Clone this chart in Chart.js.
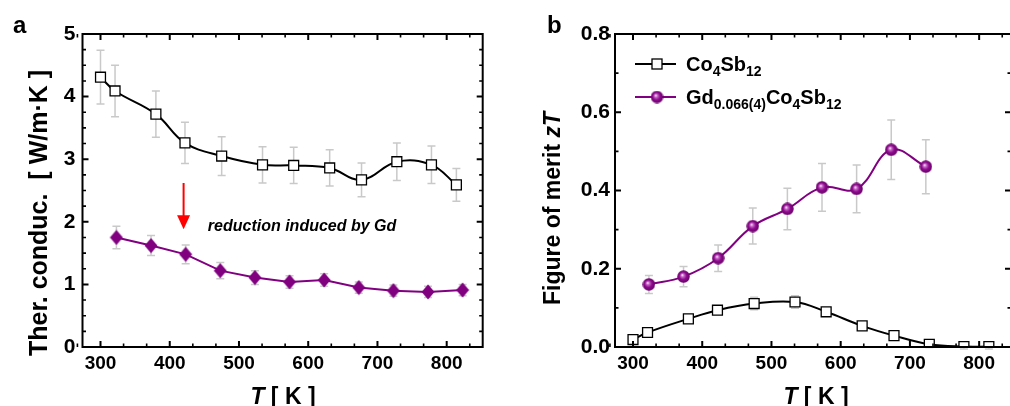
<!DOCTYPE html>
<html><head><meta charset="utf-8">
<script src="https://cdn.jsdelivr.net/npm/chart.js@4/dist/chart.umd.min.js"></script>
<style>
html,body{margin:0;padding:0;background:#fff;overflow:hidden;width:1010px;height:406px}
#ca{position:absolute;left:0;top:0}
#cb{position:absolute;left:505px;top:0}
</style></head><body>
<canvas id="ca" width="505" height="406" style="width:505px;height:406px"></canvas>
<canvas id="cb" width="515" height="406" style="width:515px;height:406px"></canvas>
<script>
// ---------------- data ----------------
const tempPure     = [300, 321, 380, 422, 475, 534, 579, 631, 677, 728, 778, 814];
const kappaPure    = [4.31, 4.09, 3.72, 3.26, 3.05, 2.91, 2.90, 2.86, 2.67, 2.96, 2.91, 2.59];
const kappaPureErr = [0.43, 0.41, 0.37, 0.33, 0.31, 0.29, 0.29, 0.29, 0.27, 0.30, 0.30, 0.26];
const tempGd       = [323, 373, 423, 473, 523, 573, 623, 673, 723, 773, 823];
const kappaGd      = [1.75, 1.62, 1.48, 1.22, 1.11, 1.04, 1.07, 0.95, 0.90, 0.88, 0.91];
const kappaGdErr   = [0.18, 0.16, 0.15, 0.13, 0.11, 0.10, 0.10, 0.09, 0.09, 0.09, 0.09];
const ztPure       = [0.019, 0.037, 0.072, 0.094, 0.111, 0.115, 0.090, 0.054, 0.029, 0.007, 0.001, 0.001];
const ztPureErr    = [0.012, 0.012, 0.010, 0.010, 0.016, 0.016, 0.010, 0.008, 0.010, 0.008, 0.006, 0.006];
const tempGdZt     = [323, 373, 423, 473, 523, 573, 623, 673, 723];
const ztGd         = [0.160, 0.180, 0.227, 0.309, 0.353, 0.408, 0.404, 0.504, 0.461];
const ztGdErr      = [0.023, 0.026, 0.034, 0.046, 0.053, 0.061, 0.061, 0.076, 0.069];

const tempTicks  = [300, 400, 500, 600, 700, 800];
const kappaTicks = [0, 1, 2, 3, 4, 5];
const ztTicks    = [0, 0.2, 0.4, 0.6, 0.8];
const ztTickLabels = ['0.0', '0.2', '0.4', '0.6', '0.8'];

// annotation (data coordinates)
const arrowT = 420, arrowFrom = 2.62, arrowTo = 1.88;
const noteText = 'reduction induced by Gd';
const noteT = 455, noteY = 1.86;

// ---------------- helpers ----------------
const FF = '"Liberation Sans", Arial, Helvetica, sans-serif';
const PURPLE = '#800080';
const ERRC = '#c9c9c9';

function makeDiamond(){
  const c = document.createElement('canvas'); c.width = 14; c.height = 16;
  const g = c.getContext('2d');
  g.fillStyle = PURPLE;
  g.beginPath(); g.moveTo(7, 0.5); g.lineTo(13.5, 8); g.lineTo(7, 15.5); g.lineTo(0.5, 8); g.closePath(); g.fill();
  return c;
}
function makeSphere(d){
  const c = document.createElement('canvas'); c.width = d; c.height = d;
  const g = c.getContext('2d'); const r = d / 2;
  const grd = g.createRadialGradient(r - 1.3, r - 1.6, 0.2, r, r, r);
  grd.addColorStop(0, '#fdeefd');
  grd.addColorStop(0.22, '#c768c7');
  grd.addColorStop(0.55, '#8e0a8e');
  grd.addColorStop(1, '#640064');
  g.fillStyle = grd;
  g.beginPath(); g.arc(r, r, r - 0.3, 0, Math.PI * 2); g.fill();
  return c;
}
const diamondImg = makeDiamond();
const sphereImg = makeSphere(13);

function drawRich(ctx, parts, x, y, size){
  let cx = x;
  parts.forEach(p => {
    const s = p.sub ? Math.round(size * 0.7) : size;
    ctx.font = (p.it ? 'italic ' : '') + 'bold ' + s + 'px ' + FF;
    ctx.fillText(p.t, cx, y + (p.sub ? size * 0.27 : 0));
    cx += ctx.measureText(p.t).width;
  });
  return cx - x;
}
function richWidth(ctx, parts, size){
  let w = 0;
  parts.forEach(p => {
    const s = p.sub ? Math.round(size * 0.7) : size;
    ctx.font = (p.it ? 'italic ' : '') + 'bold ' + s + 'px ' + FF;
    w += ctx.measureText(p.t).width;
  });
  return w;
}
function minorList(majors, step, n, lo, hi){
  const out = [];
  const first = majors[0] - step;
  for (let k = -n; k <= majors.length * n + n; k++) {
    const v = majors[0] + k * step / n;
    if (v >= lo - 1e-9 && v <= hi + 1e-9 && (k % n) !== 0) out.push(v);
  }
  return out;
}

function framePlugin(o){
  return {
    id: 'frame',
    beforeDatasetsDraw(chart){
      const ctx = chart.ctx, ys = chart.scales.y;
      chart.data.datasets.forEach((ds, i) => {
        if (!ds.errors) return;
        const meta = chart.getDatasetMeta(i);
        ctx.save(); ctx.strokeStyle = ERRC; ctx.lineWidth = 1.5;
        meta.data.forEach((pt, j) => {
          const v = ds.data[j].y, e = ds.errors[j];
          const y1 = ys.getPixelForValue(v + e), y2 = ys.getPixelForValue(v - e), x = pt.x;
          ctx.beginPath();
          ctx.moveTo(x, y1); ctx.lineTo(x, y2);
          ctx.moveTo(x - 4, y1); ctx.lineTo(x + 4, y1);
          ctx.moveTo(x - 4, y2); ctx.lineTo(x + 4, y2);
          ctx.stroke();
        });
        ctx.restore();
      });
    },
    afterDatasetsDraw(chart){
      const ctx = chart.ctx, a = chart.chartArea, xs = chart.scales.x, ys = chart.scales.y;
      ctx.save();
      ctx.strokeStyle = '#000'; ctx.lineWidth = 2;
      ctx.strokeRect(a.left, a.top, a.right - a.left, a.bottom - a.top);
      const tick = (vals, len, w) => {
        ctx.lineWidth = w; ctx.beginPath();
        vals.x.forEach(v => { const x = xs.getPixelForValue(v);
          ctx.moveTo(x, a.bottom); ctx.lineTo(x, a.bottom - len);
          ctx.moveTo(x, a.top); ctx.lineTo(x, a.top + len); });
        vals.y.forEach(v => { const y = ys.getPixelForValue(v);
          ctx.moveTo(a.left, y); ctx.lineTo(a.left + len, y);
          ctx.moveTo(a.right, y); ctx.lineTo(a.right - len, y); });
        ctx.stroke();
      };
      tick({x: o.xMaj, y: o.yMaj}, 6, 2);
      tick({x: o.xMin, y: o.yMin}, 3.5, 1.6);
      ctx.fillStyle = '#000';
      // panel letter
      ctx.font = 'bold 24px ' + FF; ctx.textBaseline = 'alphabetic'; ctx.textAlign = 'left';
      ctx.fillText(o.letter, o.letterX, 33);
      // x title
      const xt = [{t: 'T', it: true}, {t: ' [ K ]'}];
      const xw = richWidth(ctx, xt, 23);
      drawRich(ctx, xt, o.xTitleX - xw / 2, 404, 23);
      // y title
      ctx.save();
      ctx.translate(o.yTitleX, o.yTitleY); ctx.rotate(-Math.PI / 2);
      const yw = richWidth(ctx, o.yTitle, o.yTitleSize);
      drawRich(ctx, o.yTitle, -yw / 2, 0, o.yTitleSize);
      ctx.restore();
      if (o.extra) o.extra(chart, ctx);
      ctx.restore();
    }
  };
}

const xMinors = minorList(tempTicks, 100, 3, 260, 860);

function xScale(min, max){
  return {
    type: 'linear', min: min, max: max,
    afterBuildTicks: s => { s.ticks = tempTicks.map(v => ({value: v})); },
    afterFit: s => { s.height = 50; },
    grid: {display: false, drawTicks: false}, border: {display: false},
    ticks: {color: '#000', padding: 5, font: {family: FF, size: 19, weight: 'bold'}, maxRotation: 0, autoSkip: false}
  };
}

// ---------------- panel a ----------------
new Chart(document.getElementById('ca'), {
  type: 'line',
  data: {datasets: [
    {data: tempPure.map((t, i) => ({x: t, y: kappaPure[i]})), errors: kappaPureErr,
     borderColor: '#000', borderWidth: 2, tension: 0.4,
     pointStyle: 'rect', pointRadius: 7, pointBackgroundColor: '#fff', pointBorderColor: '#000', pointBorderWidth: 1.3},
    {data: tempGd.map((t, i) => ({x: t, y: kappaGd[i]})), errors: kappaGdErr,
     borderColor: PURPLE, borderWidth: 2, tension: 0,
     pointStyle: diamondImg, pointRadius: 7}
  ]},
  options: {
    responsive: false, animation: false, devicePixelRatio: 1,
    layout: {padding: {left: 32.5, right: 22.3, top: 34, bottom: 9}},
    plugins: {legend: {display: false}, tooltip: {enabled: false}},
    scales: {
      x: xScale(274, 852),
      y: {type: 'linear', min: 0, max: 5,
          afterBuildTicks: s => { s.ticks = kappaTicks.map(v => ({value: v})); },
          afterFit: s => { s.width = 50; },
          grid: {display: false, drawTicks: false}, border: {display: false},
          ticks: {color: '#000', padding: 7, font: {family: FF, size: 21, weight: 'bold'}}}
    }
  },
  plugins: [framePlugin({
    letter: 'a', letterX: 13,
    xMaj: tempTicks, xMin: xMinors,
    yMaj: kappaTicks, yMin: minorList(kappaTicks, 1, 4, 0, 5),
    xTitleX: 283, yTitleX: 47, yTitleY: 213, yTitleSize: 25,
    yTitle: [{t: 'Ther. conduc.  [ W/m\u00B7K ]'}],
    extra: (chart, ctx) => {
      const xs = chart.scales.x, ys = chart.scales.y;
      const ax = xs.getPixelForValue(arrowT), y0 = ys.getPixelForValue(arrowFrom), y1 = ys.getPixelForValue(arrowTo);
      ctx.strokeStyle = '#ff0000'; ctx.fillStyle = '#ff0000'; ctx.lineWidth = 2;
      ctx.beginPath(); ctx.moveTo(ax, y0); ctx.lineTo(ax, y1 - 12); ctx.stroke();
      ctx.beginPath(); ctx.moveTo(ax - 6.5, y1 - 14); ctx.lineTo(ax + 6.5, y1 - 14); ctx.lineTo(ax, y1); ctx.closePath(); ctx.fill();
      ctx.fillStyle = '#000';
      ctx.font = 'italic bold 16px ' + FF; ctx.textBaseline = 'alphabetic';
      ctx.fillText(noteText, xs.getPixelForValue(noteT), ys.getPixelForValue(noteY));
    }
  })]
});

// ---------------- panel b ----------------
new Chart(document.getElementById('cb'), {
  type: 'line',
  data: {datasets: [
    {data: tempPure.map((t, i) => ({x: t, y: ztPure[i]})), errors: ztPureErr,
     borderColor: '#000', borderWidth: 2, tension: 0.4,
     pointStyle: 'rect', pointRadius: 7, pointBackgroundColor: '#fff', pointBorderColor: '#000', pointBorderWidth: 1.3},
    {data: tempGdZt.map((t, i) => ({x: t, y: ztGd[i]})), errors: ztGdErr,
     borderColor: PURPLE, borderWidth: 2, tension: 0.4,
     pointStyle: sphereImg, pointRadius: 7}
  ]},
  options: {
    responsive: false, animation: false, devicePixelRatio: 1,
    layout: {padding: {left: 60, right: 8, top: 34, bottom: 9}},
    plugins: {legend: {display: false}, tooltip: {enabled: false}},
    scales: {
      x: xScale(274, 846),
      y: {type: 'linear', min: 0, max: 0.8,
          afterBuildTicks: s => { s.ticks = ztTicks.map(v => ({value: v})); },
          afterFit: s => { s.width = 50; },
          grid: {display: false, drawTicks: false}, border: {display: false},
          ticks: {color: '#000', padding: 5, font: {family: FF, size: 21, weight: 'bold'},
                  callback: (v) => ztTickLabels[ztTicks.findIndex(t => Math.abs(t - v) < 1e-9)]}}
    }
  },
  plugins: [framePlugin({
    letter: 'b', letterX: 42,
    xMaj: tempTicks, xMin: xMinors,
    yMaj: ztTicks, yMin: minorList(ztTicks, 0.2, 2, 0, 0.8),
    xTitleX: 311, yTitleX: 55, yTitleY: 208.5, yTitleSize: 23,
    yTitle: [{t: 'Figure of merit '}, {t: 'zT', it: true}],
    extra: (chart, ctx) => {
      const rows = [
        {y: 64, color: '#000', marker: 'sq', parts: [{t: 'Co'}, {t: '4', sub: true}, {t: 'Sb'}, {t: '12', sub: true}]},
        {y: 97, color: PURPLE, marker: 'sp', parts: [{t: 'Gd'}, {t: '0.066(4)', sub: true}, {t: 'Co'}, {t: '4', sub: true}, {t: 'Sb'}, {t: '12', sub: true}]}
      ];
      rows.forEach(r => {
        ctx.strokeStyle = r.color; ctx.lineWidth = 2;
        ctx.beginPath(); ctx.moveTo(130, r.y); ctx.lineTo(171, r.y); ctx.stroke();
        if (r.marker === 'sq') {
          ctx.fillStyle = '#fff'; ctx.fillRect(147, r.y - 5, 10, 10);
          ctx.strokeStyle = '#000'; ctx.lineWidth = 1.3; ctx.strokeRect(147, r.y - 5, 10, 10);
        } else {
          ctx.drawImage(sphereImg, 152 - 6.5, r.y - 6.5);
        }
        ctx.fillStyle = '#000'; ctx.textBaseline = 'alphabetic';
        drawRich(ctx, r.parts, 181, r.y + 7, 20);
      });
    }
  })]
});
</script>
</body></html>
